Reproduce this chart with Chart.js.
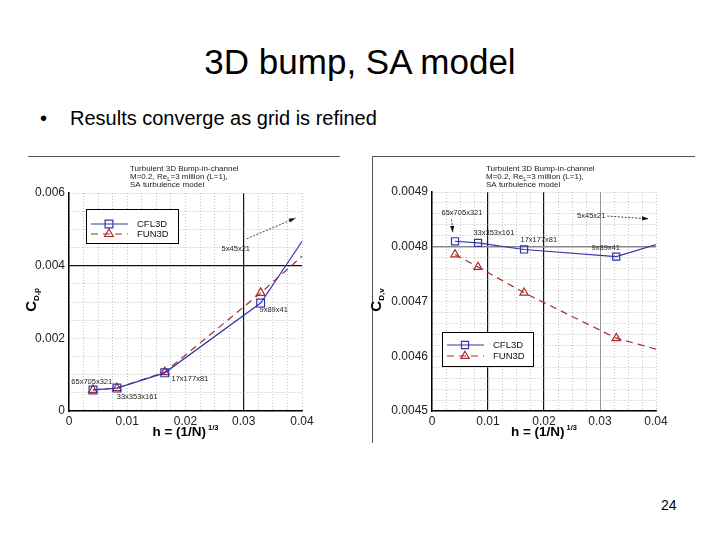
<!DOCTYPE html>
<html>
<head>
<meta charset="utf-8">
<script src="https://cdn.jsdelivr.net/npm/chart.js@4.4.1/dist/chart.umd.min.js"></script>
<style>
  body { margin: 0; width: 720px; height: 540px; background: #fff; position: relative; overflow: hidden;
         font-family: "Liberation Sans", Arial, sans-serif; color: #000; }
  #title { position: absolute; left: 0; top: 42px; width: 720px; text-align: center; font-size: 35px; line-height: 40px; }
  #bullet { position: absolute; left: 40px; top: 106px; font-size: 20px; line-height: 24px; }
  #bullet span { display: inline-block; width: 30px; }
  #page { position: absolute; left: 661px; top: 497px; font-size: 14px; line-height: 16px; }
  canvas { position: absolute; }
  #cdp { left: 20px; top: 150px; }
  #cdv { left: 365px; top: 150px; }
</style>
</head>
<body>
<div id="title">3D bump, SA model</div>
<div id="bullet"><span>•</span>Results converge as grid is refined</div>
<canvas id="cdp" width="325" height="295"></canvas>
<canvas id="cdv" width="335" height="295"></canvas>
<div id="page">24</div>
<script>
// grid spacing h = (1/N)^(1/3) for each mesh, finest first
const gridNames = ["65x705x321", "33x353x161", "17x177x81", "9x89x41", "5x45x21"];
const hValues = [0.00411, 0.00822, 0.01644, 0.0329, 0.0657];

// pressure drag C_D,p
const cdpCFL3D = [0.00058, 0.00063, 0.00105, 0.00297, 0.0108];
const cdpFUN3D = [0.00058, 0.00063, 0.00107, 0.00325, 0.0079];

// viscous drag C_D,v
const cdvCFL3D = [0.00481, 0.004807, 0.004795, 0.004782, 0.004884];
const cdvFUN3D = [0.004786, 0.004763, 0.004716, 0.004633, 0.004541];

const xTickValues = [0, 0.01, 0.02, 0.03, 0.04];
const xTickLabels = ["0", "0.01", "0.02", "0.03", "0.04"];
const cdpTickValues = [0, 0.002, 0.004, 0.006];
const cdpTickLabels = ["0", "0.002", "0.004", "0.006"];
const cdvTickValues = [0.0045, 0.0046, 0.0047, 0.0048, 0.0049];
const cdvTickLabels = ["0.0045", "0.0046", "0.0047", "0.0048", "0.0049"];

const FONT = '"Liberation Sans", Arial, sans-serif';
const BLUE = "#3535a8";
const RED = "#b02a2a";

function pickLabel(v, values, labels) {
  const i = values.findIndex((t) => Math.abs(t - v) < 1e-9);
  return i < 0 ? "" : labels[i];
}

function gridFor(refs) {
  const find = (c) => c.tick && refs.find((r) => Math.abs(r.v - c.tick.value) < 1e-9);
  return {
    grid: {
      drawTicks: false,
      color: (c) => { const r = find(c); return r ? r.color : "#b0b0b0"; },
      lineWidth: (c) => { const r = find(c); return r ? r.width : 0.8; },
    },
    border: {
      color: "#000",
      width: 1.5,
      dash: (c) => (find(c) ? [] : [1, 2]),
    },
  };
}

function richText(ctx, parts, x, y) {
  let w = 0;
  parts.forEach((p) => { ctx.font = p.font; w += ctx.measureText(p.text).width + (p.gap || 0); });
  let cx = x - w / 2;
  parts.forEach((p) => {
    ctx.font = p.font;
    cx += p.gap || 0;
    ctx.fillText(p.text, cx, y + (p.dy || 0));
    cx += ctx.measureText(p.text).width;
  });
}

function marker(ctx, style, x, y, r, color) {
  ctx.save();
  ctx.strokeStyle = color;
  ctx.lineWidth = 1.2;
  ctx.setLineDash([]);
  ctx.beginPath();
  if (style === "rect") {
    const s = r * Math.SQRT1_2;
    ctx.rect(x - s, y - s, 2 * s, 2 * s);
  } else {
    ctx.moveTo(x, y - r);
    ctx.lineTo(x + r * 0.866, y + r * 0.5);
    ctx.lineTo(x - r * 0.866, y + r * 0.5);
    ctx.closePath();
  }
  ctx.stroke();
  ctx.restore();
}

function arrow(ctx, x1, y1, x2, y2) {
  ctx.save();
  ctx.strokeStyle = "#111";
  ctx.fillStyle = "#111";
  ctx.lineWidth = 0.8;
  ctx.setLineDash([2, 1.5]);
  ctx.beginPath();
  ctx.moveTo(x1, y1);
  ctx.lineTo(x2, y2);
  ctx.stroke();
  const a = Math.atan2(y2 - y1, x2 - x1);
  ctx.setLineDash([]);
  ctx.beginPath();
  ctx.moveTo(x2, y2);
  ctx.lineTo(x2 - 7 * Math.cos(a - 0.3), y2 - 7 * Math.sin(a - 0.3));
  ctx.lineTo(x2 - 7 * Math.cos(a + 0.3), y2 - 7 * Math.sin(a + 0.3));
  ctx.closePath();
  ctx.fill();
  ctx.restore();
}

function decor(cfg) {
  return {
    id: "decor",
    afterDatasetsDraw(chart) {
      const { ctx, scales } = chart;
      ctx.save();
      ctx.fillStyle = "#222";
      ctx.font = "7.5px " + FONT;
      ctx.textBaseline = "middle";
      ctx.textAlign = "left";
      cfg.notes.forEach((n) => {
        ctx.fillText(n.text, scales.x.getPixelForValue(n.x), scales.y.getPixelForValue(n.y));
      });
      cfg.arrows.forEach((a) => {
        arrow(ctx, scales.x.getPixelForValue(a[0]), scales.y.getPixelForValue(a[1]),
          scales.x.getPixelForValue(a[2]), scales.y.getPixelForValue(a[3]));
      });
      ctx.restore();
    },
    afterDraw(chart) {
      const { ctx, chartArea } = chart;
      ctx.save();
      // picture frame
      ctx.strokeStyle = "#555";
      ctx.lineWidth = 1;
      ctx.beginPath();
      cfg.frame.forEach((seg) => { ctx.moveTo(seg[0], seg[1]); ctx.lineTo(seg[2], seg[3]); });
      ctx.stroke();

      // plot caption
      ctx.fillStyle = "#222";
      ctx.textAlign = "left";
      ctx.textBaseline = "alphabetic";
      const f = "8px " + FONT;
      ctx.font = f;
      ctx.fillText("Turbulent 3D Bump-in-channel", cfg.capX, 21);
      let cx = cfg.capX;
      [["M=0.2, Re", 0, f], ["L", 2, "6px " + FONT], ["=3 million (L=1),", 0, f]].forEach((p) => {
        ctx.font = p[2];
        ctx.fillText(p[0], cx, 29 + p[1]);
        cx += ctx.measureText(p[0]).width;
      });
      ctx.font = f;
      ctx.fillText("SA turbulence model", cfg.capX, 37);

      // axis titles
      ctx.fillStyle = "#000";
      richText(ctx, [
        { text: "h = (1/N)", font: "bold 13.5px " + FONT },
        { text: "1/3", font: "bold 7.5px " + FONT, dy: -6, gap: 2 },
      ], (chartArea.left + chartArea.right) / 2, 286);
      ctx.save();
      ctx.translate(12, 150);
      ctx.rotate(-Math.PI / 2);
      richText(ctx, [
        { text: "C", font: "bold 15px " + FONT },
        { text: cfg.ySub, font: "bold 8px " + FONT, dy: 3 },
      ], 0, 4);
      ctx.restore();

      // legend
      const L = cfg.legend;
      ctx.fillStyle = "#fff";
      ctx.fillRect(L.x, L.y, L.w, L.h);
      ctx.strokeStyle = "#000";
      ctx.lineWidth = 1;
      ctx.strokeRect(L.x + 0.5, L.y + 0.5, L.w, L.h);
      chart.data.datasets.forEach((ds, i) => {
        const y = L.y + L.rows[i];
        ctx.save();
        ctx.strokeStyle = ds.borderColor;
        ctx.lineWidth = 1.2;
        ctx.setLineDash(ds.borderDash || []);
        ctx.beginPath();
        ctx.moveTo(L.x + 5, y);
        ctx.lineTo(L.x + 42, y);
        ctx.stroke();
        ctx.restore();
        marker(ctx, ds.pointStyle, L.x + 23, y, ds.pointRadius, ds.borderColor);
        ctx.fillStyle = "#111";
        ctx.font = "9.5px " + FONT;
        ctx.textBaseline = "middle";
        ctx.fillText(ds.label, L.x + 51, y);
      });
      ctx.restore();
    },
  };
}

function series(label, ys, color, style, radius, dash) {
  return {
    label: label,
    data: hValues.map((h, i) => ({ x: h, y: ys[i] })),
    showLine: true,
    borderColor: color,
    backgroundColor: "rgba(255,255,255,0)",
    borderWidth: 1.2,
    borderDash: dash,
    pointStyle: style,
    pointRadius: radius,
    pointBorderWidth: 1.2,
    pointBorderColor: color,
    pointBackgroundColor: "rgba(255,255,255,0)",
  };
}

function buildChart(id, opts) {
  const tickFont = { family: FONT, size: 12 };
  return new Chart(document.getElementById(id), {
    type: "scatter",
    data: { datasets: opts.datasets },
    options: {
      responsive: false,
      animation: false,
      devicePixelRatio: 1,
      layout: { padding: opts.padding },
      plugins: { legend: { display: false }, tooltip: { enabled: false } },
      scales: {
        x: {
          type: "linear",
          min: 0,
          max: 0.04,
          afterFit: (s) => { s.height = 34; },
          ticks: {
            stepSize: 0.0025,
            autoSkip: false,
            maxRotation: 0,
            padding: 3,
            color: "#222",
            font: tickFont,
            callback: (v) => pickLabel(v, xTickValues, xTickLabels),
          },
          ...gridFor(opts.xRefs),
        },
        y: {
          type: "linear",
          min: opts.yMin,
          max: opts.yMax,
          afterFit: (s) => { s.width = opts.yWidth; },
          ticks: {
            stepSize: opts.yStep,
            autoSkip: false,
            padding: 4,
            color: "#222",
            font: tickFont,
            callback: (v) => pickLabel(v, opts.yTickValues, opts.yTickLabels),
          },
          ...gridFor(opts.yRefs),
        },
      },
    },
    plugins: [decor(opts.decor)],
  });
}

buildChart("cdp", {
  datasets: [
    series("CFL3D", cdpCFL3D, BLUE, "rect", 5.5, []),
    series("FUN3D", cdpFUN3D, RED, "triangle", 5, [7, 5]),
  ],
  padding: { top: 43, right: 43, left: 0, bottom: 0 },
  yMin: 0, yMax: 0.006, yStep: 0.0005, yWidth: 49,
  yTickValues: cdpTickValues, yTickLabels: cdpTickLabels,
  xRefs: [{ v: 0.03, color: "#111", width: 1.2 }],
  yRefs: [{ v: 0.004, color: "#111", width: 1.2 }],
  decor: {
    frame: [[8, 6.5, 320, 6.5]],
    capX: 110,
    ySub: "D,p",
    legend: { x: 66, y: 59, w: 92, h: 34, rows: [15, 25] },
    notes: [
      { text: gridNames[0], x: 0.0004, y: 0.00079 },
      { text: gridNames[1], x: 0.0082, y: 0.00038 },
      { text: gridNames[2], x: 0.0176, y: 0.00087 },
      { text: gridNames[3], x: 0.0327, y: 0.00278 },
      { text: gridNames[4], x: 0.0262, y: 0.00445 },
    ],
    arrows: [[0.0305, 0.00474, 0.0389, 0.00531]],
  },
});

buildChart("cdv", {
  datasets: [
    series("CFL3D", cdvCFL3D, BLUE, "rect", 5, []),
    series("FUN3D", cdvFUN3D, RED, "triangle", 4.8, [7, 5]),
  ],
  padding: { top: 42, right: 44, left: 0, bottom: 0 },
  yMin: 0.0045, yMax: 0.0049, yStep: 0.00002, yWidth: 67,
  yTickValues: cdvTickValues, yTickLabels: cdvTickLabels,
  xRefs: [
    { v: 0.01, color: "#111", width: 1.2 },
    { v: 0.02, color: "#111", width: 1.2 },
    { v: 0.03, color: "#999", width: 1 },
  ],
  yRefs: [{ v: 0.0048, color: "#888", width: 1.5 }],
  decor: {
    frame: [[7, 6.5, 330, 6.5], [7.5, 6, 7.5, 293]],
    capX: 121,
    ySub: "D,v",
    legend: { x: 77, y: 182, w: 91, h: 34, rows: [13, 24] },
    notes: [
      { text: gridNames[0], x: 0.0017, y: 0.004862 },
      { text: gridNames[1], x: 0.0074, y: 0.004825 },
      { text: gridNames[2], x: 0.0158, y: 0.004813 },
      { text: gridNames[3], x: 0.0285, y: 0.004797 },
      { text: gridNames[4], x: 0.0259, y: 0.004856 },
    ],
    arrows: [
      [0.0035, 0.004850, 0.0037, 0.004826],
      [0.0313, 0.004856, 0.0387, 0.004851],
    ],
  },
});
</script>
</body>
</html>
